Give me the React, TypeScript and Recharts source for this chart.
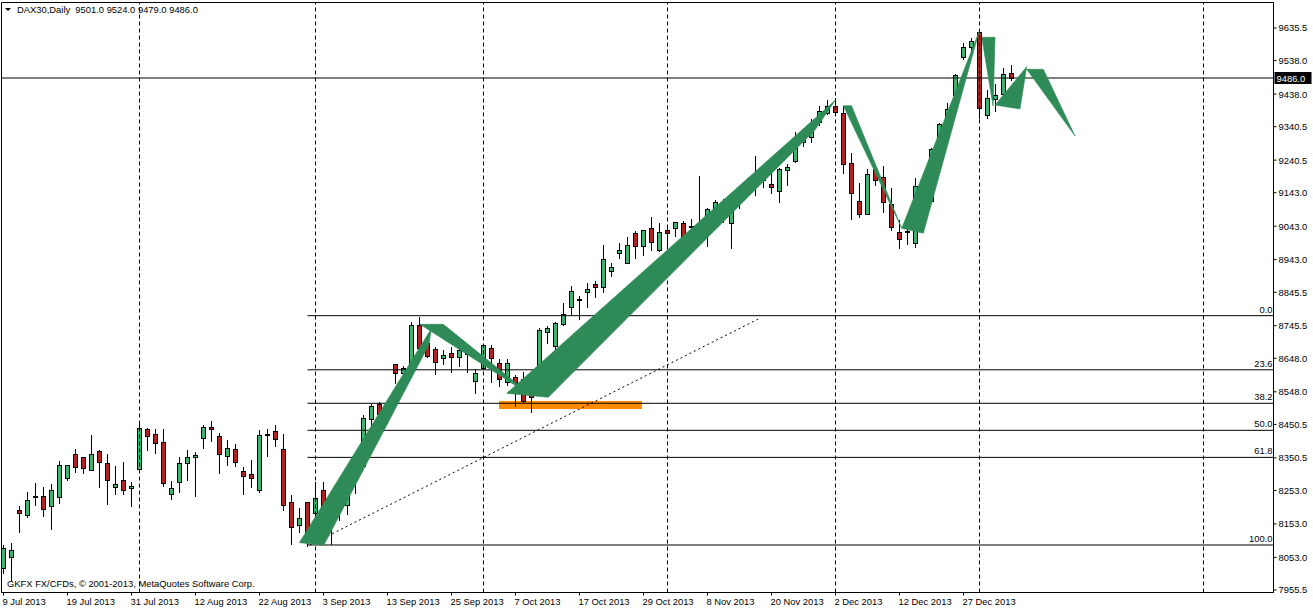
import React from "react";
import {
  ComposedChart,
  Bar,
  XAxis,
  YAxis,
  ReferenceLine,
  ReferenceArea,
  Scatter,
} from "recharts";

const FONT = "'Liberation Sans', Arial, sans-serif";

// ---- candle data (DAX30 daily, 9 Jul 2013 .. 31 Dec 2013) ----
const opens = [
  8022.7, 8053.6, 8193.5, 8180.6, 8236.0, 8237.5, 8206.4, 8233.3, 8290.2, 8363.3,
  8354.3, 8315.3, 8370.2, 8336.3, 8263.2, 8285.4, 8260.2, 8318.3, 8438.1, 8423.2,
  8399.2, 8243.5, 8279.4, 8336.3, 8354.3, 8411.2, 8444.1, 8415.1, 8355.2, 8377.2,
  8311.1, 8301.3, 8253.4, 8422.0, 8431.0, 8378.3, 8219.5, 8150.5, 8219.5, 8186.6,
  8255.4, 8195.6, 8222.5, 8210.5, 8283.3, 8327.3, 8468.1, 8511.0, 8475.9, 8629.8,
  8602.8, 8625.6, 8746.6, 8692.7, 8674.7, 8647.8, 8662.7, 8650.7, 8660.6, 8580.7,
  8619.7, 8677.7, 8632.8, 8577.7, 8590.9, 8584.9, 8555.0, 8565.7, 8725.6, 8685.5,
  8749.6, 8800.5, 8825.0, 8847.2, 8869.4, 8862.2, 8910.2, 8962.3, 8934.1, 9022.2,
  8984.1, 9037.1, 8972.2, 9031.1, 9037.1, 9052.1, 9042.0, 9032.0, 9027.0, 9085.1,
  9115.0, 9052.1, 9124.0, 9149.8, 9161.7, 9198.9, 9169.8, 9146.8, 9209.7, 9236.6,
  9294.7, 9309.7, 9354.6, 9381.6, 9401.3, 9381.6, 9231.8, 9118.9, 9079.1, 9213.8,
  9189.9, 9109.0, 9025.2, 9025.2, 8992.2, 9151.9, 9119.8, 9249.8, 9361.5, 9434.3,
  9549.3, 9579.3, 9624.2, 9374.4, 9423.5, 9439.4, 9501.0,
];
const highs = [
  8088.6, 8096.8, 8205.4, 8248.2, 8275.2, 8263.2, 8271.3, 8341.1, 8330.3, 8378.3,
  8354.3, 8418.1, 8373.2, 8361.2, 8325.2, 8338.1, 8278.1, 8457.9, 8441.1, 8438.1,
  8438.1, 8280.3, 8353.1, 8375.3, 8368.1, 8448.0, 8460.0, 8425.0, 8403.1, 8391.1,
  8323.2, 8345.3, 8433.0, 8438.1, 8448.0, 8423.2, 8238.4, 8201.5, 8219.5, 8278.2,
  8278.2, 8215.3, 8255.4, 8298.3, 8318.3, 8478.0, 8511.0, 8517.0, 8519.9, 8629.8,
  8624.7, 8757.4, 8772.4, 8692.7, 8682.6, 8672.6, 8680.8, 8690.6, 8690.6, 8614.8,
  8690.0, 8687.6, 8644.8, 8644.8, 8597.8, 8607.7, 8589.7, 8737.6, 8744.4, 8757.4,
  8812.5, 8864.3, 8834.4, 8872.4, 8880.2, 8987.1, 8932.3, 8994.0, 9010.2, 9030.0,
  9032.0, 9070.1, 9052.1, 9042.0, 9055.1, 9057.1, 9064.1, 9193.8, 9097.1, 9121.9,
  9124.0, 9131.8, 9157.0, 9186.9, 9253.7, 9216.8, 9236.6, 9216.8, 9229.7, 9324.7,
  9316.6, 9363.6, 9401.3, 9421.4, 9426.5, 9403.4, 9261.8, 9171.9, 9213.8, 9219.8,
  9223.7, 9157.0, 9062.0, 9047.0, 9186.9, 9163.8, 9276.7, 9351.6, 9411.5, 9499.3,
  9591.2, 9606.2, 9631.0, 9451.4, 9469.3, 9516.3, 9524.0,
];
const lows = [
  8004.8, 7986.8, 8128.5, 8173.4, 8208.4, 8175.5, 8136.5, 8215.3, 8283.3, 8308.1,
  8305.1, 8315.3, 8263.2, 8211.4, 8243.5, 8243.5, 8206.3, 8318.3, 8373.2, 8365.1,
  8266.2, 8228.4, 8248.2, 8283.3, 8236.3, 8380.1, 8401.0, 8305.1, 8330.3, 8325.2,
  8243.5, 8263.2, 8248.2, 8355.2, 8386.1, 8193.5, 8093.7, 8128.5, 8087.6, 8110.0,
  8138.5, 8093.7, 8163.5, 8183.6, 8245.3, 8325.2, 8445.0, 8466.9, 8455.0, 8574.7,
  8584.9, 8592.6, 8664.6, 8652.6, 8600.8, 8630.7, 8607.7, 8625.6, 8607.7, 8544.8,
  8615.0, 8577.7, 8564.8, 8567.8, 8504.9, 8517.8, 8487.9, 8544.8, 8694.5, 8672.6,
  8746.6, 8777.5, 8764.6, 8802.4, 8832.3, 8847.2, 8894.3, 8947.3, 8934.1, 8949.1,
  8957.2, 8972.2, 8970.1, 8987.1, 9014.1, 8962.3, 9017.1, 9002.1, 8984.1, 9062.0,
  9056.9, 8979.0, 9098.8, 9131.8, 9136.9, 9160.0, 9142.0, 9113.9, 9166.8, 9233.6,
  9283.6, 9293.5, 9346.5, 9378.6, 9384.6, 9201.9, 9064.1, 9071.9, 9079.1, 9166.8,
  9086.9, 9032.0, 8979.0, 8989.2, 8982.1, 9077.0, 9119.8, 9249.8, 9346.5, 9416.3,
  9543.3, 9551.1, 9366.6, 9366.6, 9386.4, 9413.3, 9479.0,
];
const closes = [
  8079.7, 8073.7, 8185.4, 8223.4, 8237.0, 8198.6, 8253.4, 8328.3, 8330.3, 8323.2,
  8321.3, 8363.3, 8339.3, 8283.3, 8271.3, 8253.4, 8267.4, 8441.1, 8417.2, 8396.2,
  8276.4, 8261.4, 8336.3, 8354.3, 8360.3, 8443.0, 8438.1, 8363.3, 8381.2, 8337.2,
  8297.4, 8291.4, 8420.2, 8423.0, 8408.2, 8208.4, 8143.5, 8171.5, 8103.6, 8231.4,
  8176.4, 8203.4, 8231.4, 8251.2, 8308.1, 8471.1, 8505.0, 8480.1, 8511.0, 8604.7,
  8617.8, 8747.5, 8679.5, 8654.7, 8637.6, 8657.7, 8650.7, 8672.6, 8669.6, 8602.8,
  8686.7, 8647.8, 8584.9, 8634.6, 8574.7, 8519.9, 8532.8, 8732.5, 8737.6, 8752.5,
  8779.5, 8849.4, 8826.0, 8854.2, 8860.3, 8944.3, 8920.3, 8972.2, 8986.2, 8985.0,
  9032.0, 8997.0, 9025.2, 9024.0, 9055.1, 9010.2, 9043.0, 9012.0, 9094.1, 9116.8,
  9074.9, 9103.9, 9145.0, 9174.9, 9198.9, 9179.7, 9159.9, 9213.8, 9219.8, 9286.6,
  9303.7, 9351.6, 9386.4, 9401.3, 9384.6, 9228.8, 9142.0, 9079.1, 9198.9, 9181.8,
  9115.0, 9041.9, 9004.2, 9029.1, 9163.8, 9104.0, 9273.7, 9348.6, 9393.5, 9496.3,
  9579.3, 9598.1, 9396.5, 9426.5, 9434.3, 9498.4, 9486.0,
];

// ---- axis ticks ----
const dateTickBars = [0, 8, 16, 24, 32, 40, 48, 56, 64, 72, 80, 88, 96, 104, 112, 120];
const dateTickLabels = [
  "9 Jul 2013", "19 Jul 2013", "31 Jul 2013", "12 Aug 2013", "22 Aug 2013",
  "3 Sep 2013", "13 Sep 2013", "25 Sep 2013", "7 Oct 2013", "17 Oct 2013",
  "29 Oct 2013", "8 Nov 2013", "20 Nov 2013", "2 Dec 2013", "12 Dec 2013", "27 Dec 2013",
];
const priceTicks = [
  9635.5, 9538.0, 9438.0, 9340.5, 9240.5, 9143.0, 9043.0, 8943.0, 8845.5,
  8745.5, 8648.0, 8548.0, 8450.5, 8350.5, 8253.0, 8153.0, 8053.0, 7955.5,
];

// ---- chart objects ----
const separatorBars = [17, 39, 60, 83, 104, 122, 150];
const fibLabels = ["0.0", "23.6", "38.2", "50.0", "61.8", "100.0"];
const fibLevels = [8775.5, 8613.7, 8513.6, 8432.8, 8351.9, 8090.0];
const fibStartBar = 38;
const lastClose = 9486.0;
const titleText = "DAX30,Daily  9501.0 9524.0 9479.0 9486.0";
const copyrightText = "GKFX FX/CFDs, \u00A9 2001-2013, MetaQuotes Software Corp.";

// drawn objects: vertices as [bar index, price]
const triangles: number[][][] = [
  [[36.98, 8096.9], [40.06, 8090.0], [53.16, 8687.9], [53.5, 8737.8]],
  [[52.06, 8749.7], [54.98, 8749.7], [66.2, 8533.3]],
  [[62.9, 8543.5], [68.1, 8531.5], [101.44, 9330.6], [104.0, 9420.3]],
  [[104.98, 9403.2], [106.0, 9403.2], [112.28, 9036.7]],
  [[112.28, 9036.7], [114.98, 9021.8], [121.94, 9624.4]],
  [[122.28, 9607.7], [123.94, 9607.7], [123.7, 9402.3]],
  [[123.94, 9405.3], [127.06, 9393.4], [127.9, 9519.8]],
  [[127.9, 9512.0], [129.98, 9512.0], [133.94, 9312.6]],
];
const zoneBars = [61.94, 79.8];
const zonePrices = [8496.6, 8520.5];
const trendBars = [38.3, 94.6];
const trendPrices = [8090.0, 8768.6];

const X_DOMAIN: [number, number] = [-0.25, 158.75];
const Y_DOMAIN: [number, number] = [7948.0, 9711.7];

const candleData = opens.map((o, i) => ({
  x: i,
  o,
  h: highs[i],
  l: lows[i],
  c: closes[i],
  range: [lows[i], highs[i]],
}));

const GREEN = "#3CB371";
const RED = "#B22222";
const OBJ_GREEN = "#2E8B57";

const Candle = (props: any) => {
  const { x, y, width, height, payload } = props;
  if (!payload || x == null || y == null) return <g />;
  const { o, h, l, c } = payload;
  const top = Math.min(y, y + height);
  const span = Math.abs(height);
  const k = h > l ? span / (h - l) : 0;
  const cx = Math.floor(x + width / 2) + 0.5;
  const yO = top + (h - o) * k;
  const yC = top + (h - c) * k;
  const bTop = Math.round(Math.min(yO, yC)) + 0.5;
  let bBot = Math.round(Math.max(yO, yC)) + 0.5;
  let fill = c > o ? GREEN : RED;
  if (bBot - bTop < 1) {
    bBot = bTop + 1;
    fill = "#000";
  }
  return (
    <g>
      <line x1={cx} x2={cx} y1={Math.round(top)} y2={Math.round(top + span) + 1} stroke="#000" strokeWidth={1} />
      <rect x={cx - 2} y={bTop} width={4} height={bBot - bTop} fill={fill} stroke="#000" strokeWidth={1} />
    </g>
  );
};

const DateTick = (props: any) => {
  const { x, y, payload } = props;
  const idx = dateTickBars.indexOf(payload.value);
  return (
    <text x={x - 1} y={y + 9} textAnchor="start" fontFamily={FONT} fontSize={9.4} fill="#000">
      {idx >= 0 ? dateTickLabels[idx] : ""}
    </text>
  );
};

const PriceTick = (props: any) => {
  const { x, y, payload } = props;
  return (
    <text x={x} y={y + 3.5} textAnchor="start" fontFamily={FONT} fontSize={9.4} fill="#000">
      {Number(payload.value).toFixed(1)}
    </text>
  );
};

const triPolygon = (props: any) => {
  const pts = (props && props.points) || [];
  return (
    <polygon
      points={pts.map((p: any) => `${p.x},${p.y}`).join(" ")}
      fill={OBJ_GREEN}
      stroke={OBJ_GREEN}
      strokeWidth={0.6}
    />
  );
};

const fibLabel = (text: string) => (props: any) => {
  const vb = (props && props.viewBox) || {};
  const xr = (vb.x || 0) + (vb.width || 0) - 1;
  const yy = (vb.y || 0) - 3;
  return (
    <text x={xr} y={yy} textAnchor="end" fontFamily={FONT} fontSize={9.4} fill="#000">
      {text}
    </text>
  );
};

const closeLabel = (props: any) => {
  const vb = (props && props.viewBox) || {};
  const xr = (vb.x || 0) + (vb.width || 0);
  const yy = vb.y || 0;
  return (
    <g>
      <rect x={xr + 1} y={yy - 6} width={37} height={12} fill="#000" />
      <text x={xr + 3} y={yy + 3.5} textAnchor="start" fontFamily={FONT} fontSize={9.4} fill="#fff">
        {lastClose.toFixed(1)}
      </text>
    </g>
  );
};

export default function App() {
  return (
    <div style={{ position: "absolute", left: 0, top: 0, width: 1313, height: 610, background: "#fff", overflow: "hidden" }}>
      <ComposedChart
        width={1313}
        height={610}
        data={candleData}
        margin={{ top: 2.5, right: 0, bottom: 0, left: 1.5 }}
      >
        <XAxis
          dataKey="x"
          type="number"
          domain={X_DOMAIN}
          allowDataOverflow
          ticks={dateTickBars}
          interval={0}
          height={17.5}
          axisLine={{ stroke: "#000" }}
          tickLine={{ stroke: "#000" }}
          tickSize={3}
          tickMargin={0}
          tick={DateTick}
        />
        <YAxis
          orientation="right"
          type="number"
          domain={Y_DOMAIN}
          allowDataOverflow
          ticks={priceTicks}
          interval={0}
          width={39.5}
          axisLine={{ stroke: "#000" }}
          tickLine={{ stroke: "#000" }}
          tickSize={3}
          tickMargin={2}
          tick={PriceTick}
        />
        <ReferenceArea
          x1={X_DOMAIN[0]}
          x2={X_DOMAIN[1]}
          y1={Y_DOMAIN[0]}
          y2={Y_DOMAIN[1]}
          fill="none"
          fillOpacity={0}
          stroke="#000"
          strokeWidth={1}
          ifOverflow="visible"
        />
        {separatorBars.map((b) => (
          <ReferenceLine key={"sep" + b} x={b} stroke="#000" strokeDasharray="4 3" ifOverflow="visible" />
        ))}
        {fibLevels.map((lvl, i) => (
          <ReferenceLine
            key={"fib" + i}
            segment={[
              { x: fibStartBar, y: lvl },
              { x: X_DOMAIN[1], y: lvl },
            ]}
            stroke="#000"
            ifOverflow="visible"
            label={fibLabel(fibLabels[i])}
          />
        ))}
        <ReferenceArea
          x1={zoneBars[0]}
          x2={zoneBars[1]}
          y1={zonePrices[0]}
          y2={zonePrices[1]}
          fill="#FF8C00"
          fillOpacity={1}
          stroke="none"
          ifOverflow="visible"
        />
        {triangles.map((t, k) => (
          <Scatter
            key={"tri" + k}
            data={t.map(([b, p]) => ({ x: b, y: p }))}
            dataKey="y"
            line={triPolygon}
            lineType="joint"
            shape={() => <g />}
            isAnimationActive={false}
          />
        ))}
        <ReferenceLine
          segment={[
            { x: trendBars[0], y: trendPrices[0] },
            { x: trendBars[1], y: trendPrices[1] },
          ]}
          stroke="#000"
          strokeDasharray="2 3"
          ifOverflow="visible"
        />
        <ReferenceLine y={lastClose} stroke="#000" ifOverflow="visible" label={closeLabel} />
        <Bar dataKey="range" barSize={5} shape={Candle} isAnimationActive={false} />
      </ComposedChart>
      <svg style={{ position: "absolute", left: 0, top: 0 }} width={12} height={14}>
        <polygon points="5,8 11,8 8,11" fill="#000" />
      </svg>
      <div
        style={{
          position: "absolute",
          left: 17,
          top: 4,
          fontFamily: FONT,
          fontSize: 9.4,
          lineHeight: "11px",
          whiteSpace: "pre",
          color: "#000",
        }}
      >
        {titleText}
      </div>
      <div
        style={{
          position: "absolute",
          left: 7,
          top: 578,
          fontFamily: FONT,
          fontSize: 9.4,
          lineHeight: "11px",
          whiteSpace: "pre",
          color: "#000",
        }}
      >
        {copyrightText}
      </div>
    </div>
  );
}
